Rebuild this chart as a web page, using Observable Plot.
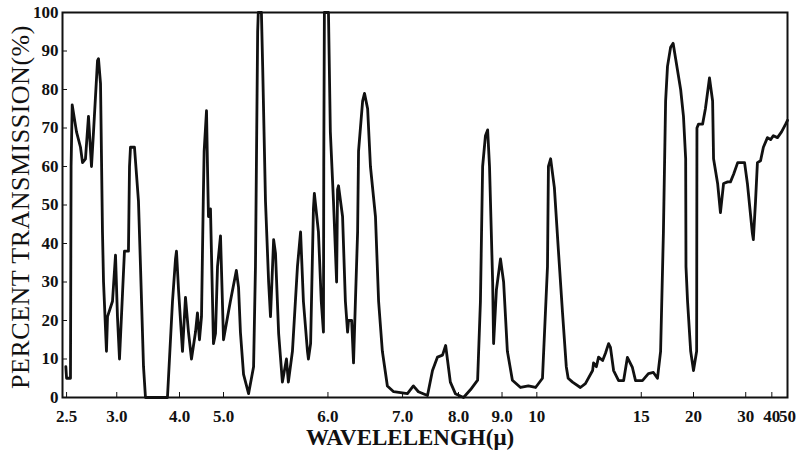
<!DOCTYPE html>
<html><head><meta charset="utf-8">
<script src="https://cdn.jsdelivr.net/npm/d3@7"></script>
<script src="https://cdn.jsdelivr.net/npm/@observablehq/plot@0.6"></script>
<style>
body{margin:0;background:#fff;}
#chart{width:802px;height:453px;}
#chart svg g[aria-label="x-axis tick label"], #chart svg g[aria-label="y-axis tick label"]{font-weight:bold;}
</style></head><body><div id="chart"></div>
<script>
// Wavenumber (cm^-1) of each traced point and its percent transmission
const wavenumber = [
  4010, 4000, 3974, 3948, 3940, 3925, 3868, 3815, 3788, 3749, 3709, 3669, 3642, 3589, 3576, 3549,
  3523, 3509, 3470, 3456, 3390, 3350, 3324, 3297, 3257, 3231, 3178, 3164, 3151, 3098, 3045, 3018,
  2978, 2952, 2660, 2593, 2553, 2540, 2513, 2466, 2432, 2398, 2364, 2318, 2296, 2273, 2250, 2230,
  2220, 2193, 2182, 2171, 2148, 2114, 2091, 2068, 2034, 2000, 1987, 1978, 1959, 1952, 1946, 1936,
  1920, 1904, 1898, 1891, 1889, 1879, 1875, 1866, 1856, 1850, 1840, 1834, 1824, 1812, 1799, 1793,
  1780, 1764, 1754, 1745, 1732, 1729, 1722, 1713, 1710, 1697, 1688, 1681, 1680, 1678, 1665, 1659,
  1649, 1639, 1636, 1633, 1620, 1611, 1604, 1601, 1591, 1585, 1579, 1572, 1569, 1556, 1550, 1540,
  1531, 1515, 1505, 1493, 1477, 1457, 1413, 1394, 1378, 1349, 1333, 1317, 1301, 1291, 1276, 1260,
  1234, 1212, 1189, 1180, 1173, 1164, 1157, 1151, 1141, 1138, 1129, 1116, 1106, 1094, 1078, 1052,
  1027, 1004, 982, 966, 963, 956, 944, 931, 918, 906, 900, 886, 861, 845, 822, 819,
  810, 803, 790, 781, 771, 765, 755, 739, 723, 711, 695, 685, 663, 644, 628, 615,
  605, 596, 589, 583, 573, 565, 557, 541, 532, 525, 524, 519, 509, 500, 490, 489,
  484, 471, 462, 449, 439, 436, 423, 414, 404, 391, 382, 372, 359, 350, 337, 328,
  312, 309, 302, 296, 286, 277, 264, 254, 245, 232, 219, 206, 200
];
const transmission = [
  8, 5, 5, 5, 60, 76, 69, 65, 61, 62, 73, 60, 69, 87.5, 88, 81.5,
  43, 30, 12, 21, 25, 37, 21, 10, 27, 38, 38, 60, 65, 65, 51, 34,
  8, 0, 0, 25, 36, 38, 28, 12, 26, 17, 10, 17, 22, 15, 21, 51,
  64, 74.5, 60, 47, 49, 14, 16.6, 34, 42, 15, 21, 25, 33, 28.6, 17, 6,
  1, 8, 34, 95, 100, 100, 86, 51, 30, 21, 41, 37.4, 16.6, 4, 10, 4,
  12, 34, 43, 25, 12, 10, 14, 49, 53, 43, 25, 17, 60, 100, 100, 69,
  51, 30, 54, 55, 47, 25, 17, 20, 20, 9, 25, 43, 64, 77, 79, 75,
  60, 47, 25, 12, 3, 1.5, 1, 3, 1.5, 0.5, 7, 10.5, 11, 13.5, 4, 1,
  0, 2, 4.5, 25, 60, 68, 69.5, 60, 30, 14, 28, 36, 30, 12, 4.5, 2.6,
  3, 2.6, 5, 34, 60, 62, 54.5, 38, 22, 8, 5, 4, 2.6, 3.6, 7, 9,
  8, 10.5, 9.6, 11.5, 14, 13, 7, 4.4, 4.4, 10.4, 7.8, 4.4, 4.4, 6.2, 6.5, 5,
  12, 43, 77, 86, 91, 92, 88, 80, 73, 62, 34, 25, 12, 7, 12, 70,
  71, 71, 75, 83, 77, 62, 55.6, 48, 55.6, 56, 56, 58, 61, 61, 61, 55.6,
  42.6, 41, 51, 61, 61.5, 65, 67.5, 67, 68, 67.5, 69, 71, 72
];
const tickWavelengths = [2.5, 3, 4, 5, 6, 7, 8, 9, 10, 15, 20, 30, 40, 50];
const tickLabels = ["2.5", "3.0", "4.0", "5.0", "6.0", "7.0", "8.0", "9.0", "10", "15", "20", "30", "40", "50"];
const yTicks = [0, 10, 20, 30, 40, 50, 60, 70, 80, 90, 100];
const yTitle = "PERCENT TRANSMISSION(%)";
const xTitle = "WAVELELENGH(μ)";

const data = wavenumber.map((w, i) => ({w, t: transmission[i]}));
const xTickValues = tickWavelengths.map(l => 1e4 / l);
const labelOf = new Map(xTickValues.map((v, i) => [v, tickLabels[i]]));

const plot = Plot.plot({
  width: 802, height: 453,
  marginTop: 12, marginBottom: 56, marginLeft: 62, marginRight: 15,
  style: {background: "#fff", fontFamily: "'Liberation Serif', 'DejaVu Serif', serif", color: "#111"},
  x: {type: "linear", domain: [4054, 2500, 2000, 200], range: [62, 179, 223, 787]},
  y: {domain: [0, 100]},
  marks: [
    Plot.line(data, {x: "w", y: "t", stroke: "#111", strokeWidth: 2.8, strokeLinejoin: "round"}),
    Plot.frame({stroke: "#111", strokeWidth: 2}),
    Plot.axisX({ticks: xTickValues, tickFormat: d => labelOf.get(d), tickSize: -5, tickPadding: 17,
      fontSize: 17, fontWeight: "bold", label: null}),
    Plot.axisY({ticks: yTicks, tickSize: -5, tickPadding: 9, fontSize: 17, fontWeight: "bold", label: null}),
    Plot.text([yTitle], {frameAnchor: "left", textAnchor: "middle", lineAnchor: "middle", dx: -42, dy: 2, rotate: -90,
      fontSize: 26, text: d => d, fill: "#111", style: "letter-spacing:0.5px"}),
    Plot.text([xTitle], {frameAnchor: "bottom", textAnchor: "middle", lineAnchor: "middle", dx: -15, dy: 40,
      fontSize: 23, fontWeight: "bold", text: d => d, fill: "#111"})
  ]
});
plot.querySelectorAll("text").forEach(t => { if (t.textContent === yTitle) t.style.letterSpacing = "0.5px"; });
document.getElementById("chart").appendChild(plot);
</script>
</body></html>
